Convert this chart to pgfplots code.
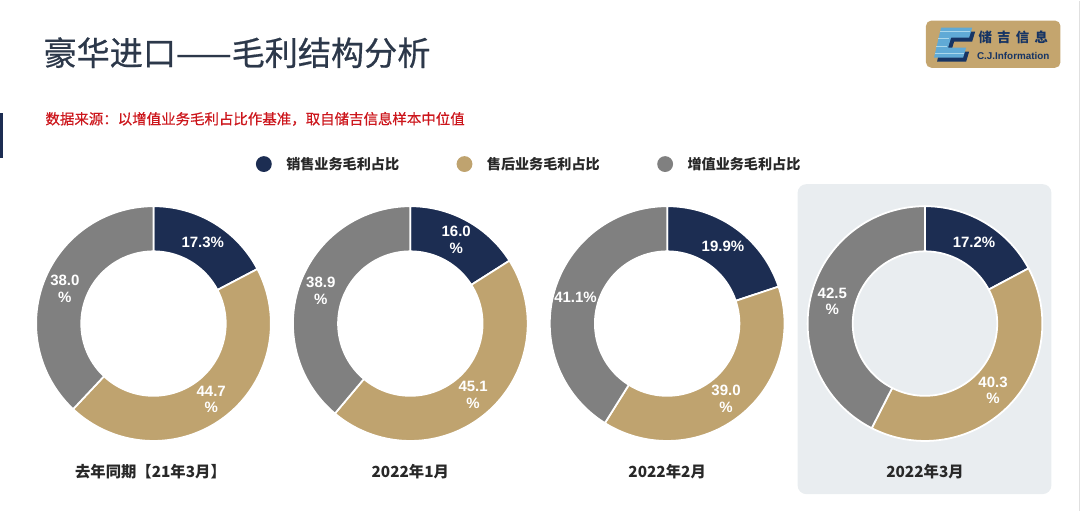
\documentclass[border=0pt]{standalone}
\usepackage{pgfplots}
\pgfplotsset{compat=1.18}
\usepackage{fontspec}
\setmainfont{Liberation Sans}
\newfontfamily\cjk{Noto Sans CJK SC}
\newfontfamily\cjkmed[FakeBold=0.6]{Noto Sans CJK SC}

\definecolor{NavySlice}{RGB}{28,45,82}
\definecolor{TanSlice}{RGB}{191,163,111}
\definecolor{GraySlice}{RGB}{128,128,128}
\definecolor{PanelBg}{RGB}{233,237,240}
\definecolor{TitleInk}{RGB}{44,56,74}
\definecolor{NoteRed}{RGB}{204,22,28}
\definecolor{LabelInk}{RGB}{40,40,40}
\definecolor{LogoTan}{RGB}{196,165,110}
\definecolor{LogoBlue}{RGB}{96,170,214}
\definecolor{LogoLight}{RGB}{170,215,235}
\definecolor{LogoNavy}{RGB}{22,52,100}

% ring geometry, in picture pixels
\newcommand{\Rin}{72}
\newcommand{\Rout}{117}
\newcommand{\cy}{322}

% one ring segment: centre x, start %, end %, colour
\newcommand{\slice}[4]{%
  \addplot[fill=#4, draw=white, line width=1pt, mark=none, domain=0:2, samples=201, variable=\t]
    ({(#1)+(\Rin+(\Rout-\Rin)*(\t<1.005))*cos(90-3.6*((#2)+((#3)-(#2))*ifthenelse(\t<1.005,\t,(2-\t)/0.99)))},
     {\cy-(\Rin+(\Rout-\Rin)*(\t<1.005))*sin(90-3.6*((#2)+((#3)-(#2))*ifthenelse(\t<1.005,\t,(2-\t)/0.99)))}) -- cycle;
}
% one donut: centre x, sales, after-sales, value-added
\newcommand{\donut}[4]{%
  \slice{#1}{0}{#2}{NavySlice}
  \slice{#1}{#2}{#2+#3}{TanSlice}
  \slice{#1}{#2+#3}{100}{GraySlice}
}
% value label: centre x, start %, share, text
\newcommand{\plabel}[4]{%
  \node[text=white, font=\bfseries\fontsize{8.5}{9.5}\selectfont, align=center, inner sep=0pt]
    at (axis cs:{(#1)+95*cos(90-3.6*((#2)+(#3)/2))},{\cy-95*sin(90-3.6*((#2)+(#3)/2))}) {#4};
}

\begin{document}
\begin{tikzpicture}
\begin{axis}[
  width=21.6cm, height=10.18cm, scale only axis,
  xmin=0, xmax=1080, ymin=0, ymax=509, y dir=reverse,
  hide axis, clip=false,
]
  % page furniture
  \fill[PanelBg, rounded corners=5pt] (795,183) rectangle (1048,492);
  \fill[NavySlice] (0,112) rectangle (3,157);
  \draw[black!12, line width=0.6pt] (1076,0) -- (1076,509);

  \node[anchor=west, text=TitleInk, font=\cjkmed\fontsize{18.8}{22}\selectfont, inner sep=0pt] at (43,52) {豪华进口——毛利结构分析};
  \node[anchor=west, text=NoteRed, font=\cjkmed\fontsize{8.2}{10}\selectfont, inner sep=0pt] at (45,118) {数据来源：以增值业务毛利占比作基准，取自储吉信息样本中位值};

  % logo
  \fill[LogoTan, rounded corners=3pt] (923,20) rectangle (1057,67);
  \fill[LogoNavy] (941,31) -- (972,31) -- (969,41) -- (951,41) -- (948,51) -- (966,51) -- (963,61) -- (934,61) -- cycle;
  \fill[LogoBlue] (938,27) -- (969,27) -- (966,37) -- (948,37) -- (945,47) -- (963,47) -- (960,57) -- (931,57) -- cycle;
  \draw[LogoLight, line width=0.8pt] (937,31) -- (967,31) (935,38) -- (946,38) (933,46) -- (944,46) (932,53) -- (961,53);
  \node[text=LogoNavy, font=\cjk\bfseries\fontsize{7.6}{9}\selectfont, inner sep=0pt] at (1010,37) {储\hspace{3pt}吉\hspace{3pt}信\hspace{3pt}息};
  \node[text=LogoNavy, font=\bfseries\fontsize{5.6}{6}\selectfont, inner sep=0pt] at (1010,55) {C.J.Information};

  % legend
  \fill[NavySlice] (263,163) circle[radius=4.5pt];
  \fill[TanSlice] (463,163) circle[radius=4.5pt];
  \fill[GraySlice] (663,163) circle[radius=4.5pt];
  \node[anchor=west, text=LabelInk, font=\cjk\bfseries\fontsize{8}{10}\selectfont, inner sep=0pt] at (285,163) {销售业务毛利占比};
  \node[anchor=west, text=LabelInk, font=\cjk\bfseries\fontsize{8}{10}\selectfont, inner sep=0pt] at (485,163) {售后业务毛利占比};
  \node[anchor=west, text=LabelInk, font=\cjk\bfseries\fontsize{8}{10}\selectfont, inner sep=0pt] at (685,163) {增值业务毛利占比};

  % donuts: sales, after-sales, value-added (%)
  \donut{153}{17.3}{44.7}{38.0}
  \donut{409}{16.0}{45.1}{38.9}
  \donut{665}{19.9}{39.0}{41.1}
  \donut{922}{17.2}{40.3}{42.5}

  \plabel{153}{0}{17.3}{17.3\%}
  \plabel{153}{17.3}{44.7}{44.7\\\%}
  \plabel{153}{62.0}{38.0}{38.0\\\%}
  \plabel{409}{0}{16.0}{16.0\\\%}
  \plabel{409}{16.0}{45.1}{45.1\\\%}
  \plabel{409}{61.1}{38.9}{38.9\\\%}
  \plabel{665}{0}{19.9}{19.9\%}
  \plabel{665}{19.9}{39.0}{39.0\\\%}
  \plabel{665}{58.9}{41.1}{41.1\%}
  \plabel{922}{0}{17.2}{17.2\%}
  \plabel{922}{17.2}{40.3}{40.3\\\%}
  \plabel{922}{57.5}{42.5}{42.5\\\%}

  % period labels
  \node[text=LabelInk, font=\cjk\bfseries\fontsize{8.7}{11}\selectfont, inner sep=0pt] at (150,470) {去年同期【21年3月】};
  \node[text=LabelInk, font=\cjk\bfseries\fontsize{8.7}{11}\selectfont, inner sep=0pt] at (409,470) {2022年1月};
  \node[text=LabelInk, font=\cjk\bfseries\fontsize{8.7}{11}\selectfont, inner sep=0pt] at (665,470) {2022年2月};
  \node[text=LabelInk, font=\cjk\bfseries\fontsize{8.7}{11}\selectfont, inner sep=0pt] at (922,470) {2022年3月};
\end{axis}
\end{tikzpicture}
\end{document}
